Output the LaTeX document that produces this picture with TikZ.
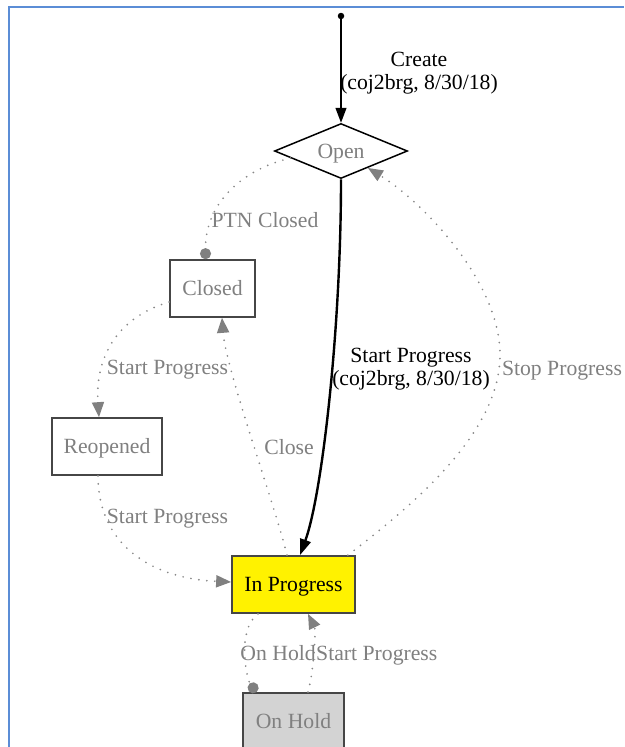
\documentclass[tikz,border=0pt]{standalone}
\usepackage{fontspec}
\setmainfont{Liberation Serif}
\usetikzlibrary{arrows.meta,shapes.geometric,calc}
\definecolor{frameblue}{RGB}{91,141,214}
\definecolor{labelgray}{RGB}{128,128,128}
\definecolor{edgegray}{RGB}{135,135,135}
\definecolor{tipgray}{RGB}{128,128,128}
\definecolor{boxline}{RGB}{70,70,70}
\definecolor{holdfill}{RGB}{211,211,211}

\begin{document}
\begin{tikzpicture}[x=1pt,y=-1pt,
  every node/.style={font=\fontsize{21.7}{23}\selectfont},
  state/.style={draw=boxline, line width=1.7pt, rectangle, minimum height=57pt, inner sep=0pt,
                text=labelgray, text height=14.5pt, text depth=0pt},
  lbl/.style={inner sep=0pt, text=labelgray, text height=14.5pt, text depth=0pt},
  blbl/.style={inner sep=0pt, text=black, align=center},
  soft/.style={draw=edgegray, line width=1.9pt, line cap=round, dash pattern=on 0pt off 8pt},
  softarrow/.style={soft, -{Triangle[length=15pt,width=12pt,fill=tipgray,color=tipgray]}},
  softdot/.style={soft, -{Circle[length=11pt,fill=tipgray,color=tipgray]}}]

% page and frame
\fill[white] (0,0) rectangle (624,747);
\useasboundingbox (0,0) rectangle (624,747);
\clip (0,0) rectangle (624,747);
\draw[frameblue, line width=2pt] (9,748) -- (9,6.5) -- (624,6.5);

% states
\node[circle, fill=black, inner sep=0pt, minimum size=6.5pt] (init) at (341,16) {};
\node[diamond, draw=black, line width=1.5pt, minimum width=133pt, minimum height=55pt,
      inner sep=0pt, aspect=2.4, text=labelgray, text height=14.5pt, text depth=0pt] (open) at (341,151) {Open};
\node[state, minimum width=85pt] (closed) at (212.5,288.5) {Closed};
\node[state, minimum width=110pt] (reopened) at (107,446.5) {Reopened};
\node[state, minimum width=123pt, fill=yellow, text=black] (inprog) at (293.5,584.5) {In Progress};
\node[state, minimum width=101pt, fill=holdfill] (onhold) at (293.5,721.5) {On Hold};

% transitions
\draw[line width=1.3pt, -{Triangle[length=15pt,width=11pt]}] (init) -- (open.north);

\draw[softdot] ($(open.west)!0.25!(open.south)$) .. controls (240,170) and (205,205)
  .. ($(closed.north west)!0.42!(closed.north east)$);

\draw[softarrow] ($(closed.west)+(0,13.5)$) .. controls (115,318) and (95,360)
  .. ($(reopened.north)+(-8,0)$);

\draw[softarrow] ($(reopened.south)+(-9,0)$) .. controls (98,540) and (145,578)
  .. ($(inprog.west)+(0,-2.5)$);

\draw[softarrow] ($(inprog.north)+(-6.5,0)$) .. controls (275,505) and (226,370)
  .. ($(closed.south)+(9.5,0)$);

\draw[line width=2.4pt, -{Triangle[length=16pt,width=11pt]}] (open.south)
  .. controls (341,330) and (322,495) .. ($(inprog.north)+(6.5,0)$);

\draw[softarrow] ($(inprog.north east)+(-8,0)$) .. controls (420,500) and (500,430) .. (500,355)
  .. controls (500,280) and (420,200) .. ($(open.south)!0.4!(open.east)$);

\draw[softdot] ($(inprog.south)+(-35.5,0)$) .. controls (236,630) and (247,680)
  .. ($(onhold.north)+(-37,0)$);

\draw[softarrow] ($(onhold.north)+(14.5,0)$) .. controls (314,670) and (316,630)
  .. ($(inprog.south)+(14.5,0)$);

% transition labels
\node[blbl] (lcreate) at (419,73.5) {Create\\(coj2brg, 8/30/18)};
\node[lbl] (lptn) at (265,220) {PTN Closed};
\node[lbl] (lreopen) at (167.5,367) {Start Progress};
\node[lbl] (lresume) at (167.5,516) {Start Progress};
\node[lbl] (lclose) at (289,447) {Close};
\node[blbl] (lstart) at (411,369) {Start Progress\\(coj2brg, 8/30/18)};
\node[lbl] (lstop) at (562,368) {Stop Progress};
\node[lbl, anchor=east] (lhold) at (316,653) {On Hold};
\node[lbl, anchor=west] (lunhold) at (316,653) {Start Progress};
\end{tikzpicture}
\end{document}
